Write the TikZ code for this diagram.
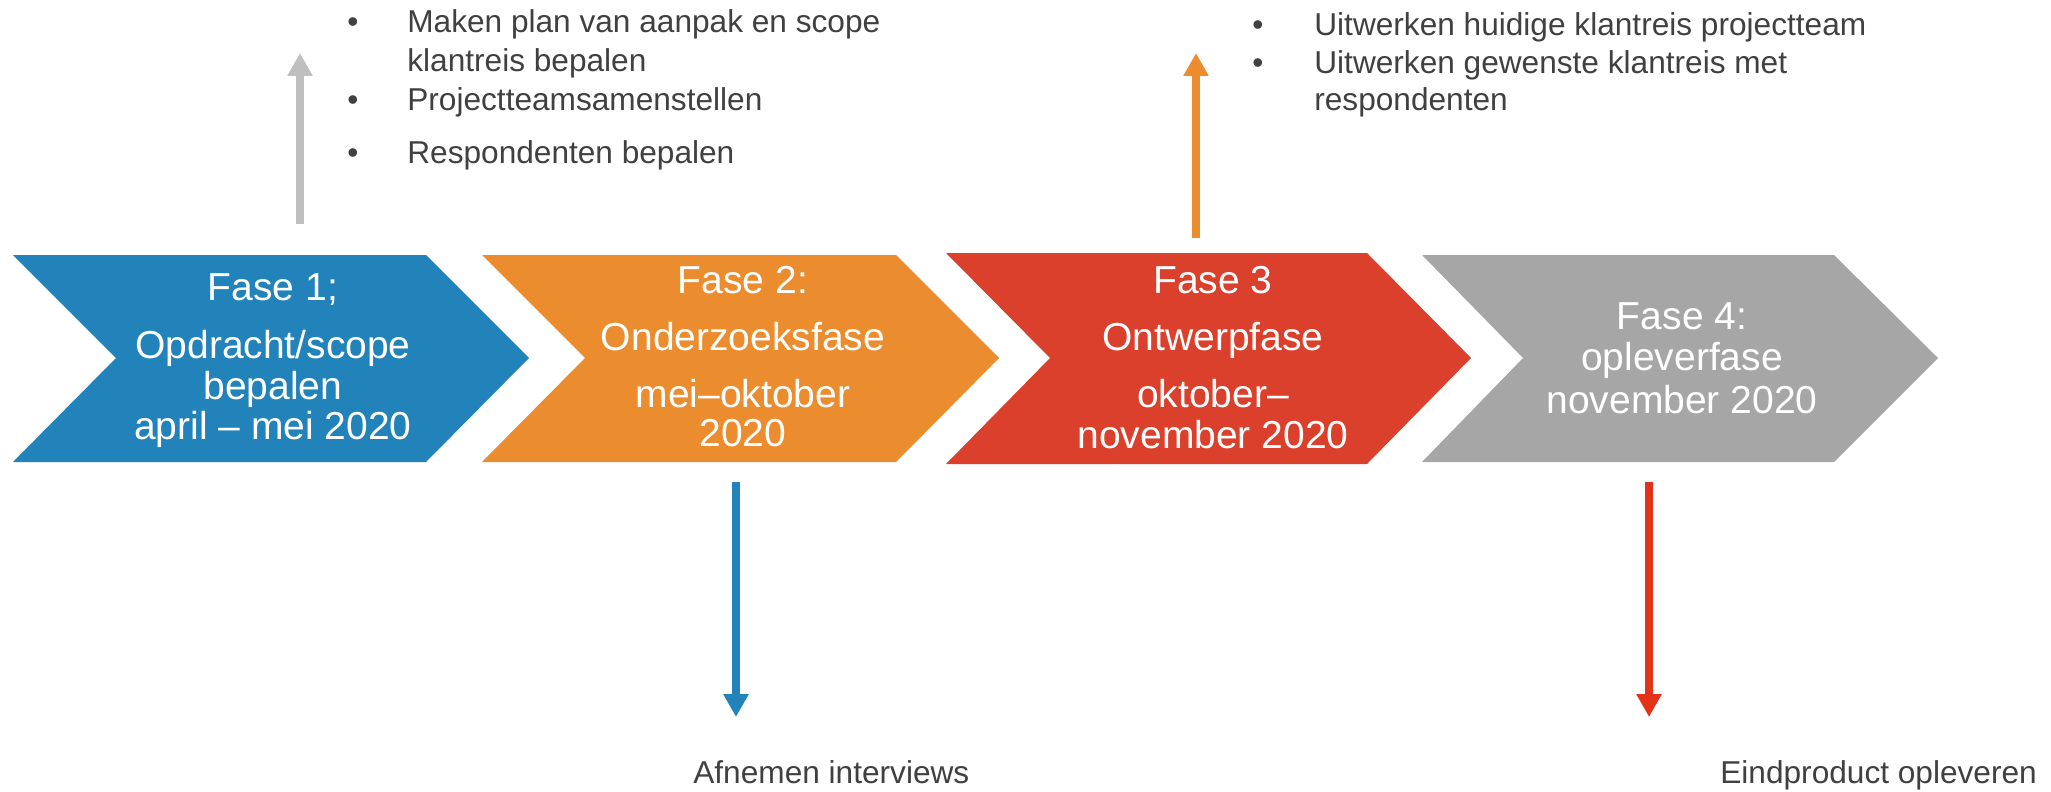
\documentclass[tikz,border=0pt]{standalone}
\usepackage{fontspec}
\setmainfont{Liberation Sans}
\usetikzlibrary{arrows.meta}
\definecolor{cblue}{RGB}{33,131,186}
\definecolor{corange}{RGB}{235,140,47}
\definecolor{cred}{RGB}{219,64,44}
\definecolor{cgray}{RGB}{166,166,166}
\definecolor{agray}{RGB}{191,191,191}
\definecolor{ared}{RGB}{227,50,25}
\definecolor{textgray}{RGB}{64,64,64}
\begin{document}
\begin{tikzpicture}[x=0.02cm,y=-0.02cm,
  phase/.style={anchor=base, text=white, font=\fontsize{22.2}{26}\selectfont, inner sep=0pt},
  item/.style={anchor=base west, text=textgray, font=\fontsize{18}{21}\selectfont, inner sep=0pt},
  bul/.style={anchor=base, text=textgray, font=\fontsize{18}{21}\selectfont, inner sep=0pt},
  pointer/.style={line width=0.154cm, -{Triangle[width=0.48cm,length=0.46cm]}},
]
\path[use as bounding box] (0,0) rectangle (2051,791);

% chevrons
\fill[cblue] (13,255) -- (426,255) -- (529,358) -- (426,462) -- (13,462) -- (116,358) -- cycle;
\fill[corange] (482,255) -- (896,255) -- (999,358) -- (896,462) -- (482,462) -- (585,358) -- cycle;
\fill[cred] (946,253) -- (1367,253) -- (1471,358) -- (1367,464) -- (946,464) -- (1050,358) -- cycle;
\fill[cgray] (1422,255) -- (1834,255) -- (1938,358) -- (1834,462) -- (1422,462) -- (1523,358) -- cycle;

% phase texts
\node[phase] (b1) at (273,300) {Fase 1;};
\node[phase] (b2) at (273,358) {Opdracht/scope};
\node[phase] (b3) at (273,399) {bepalen};
\node[phase] (b4) at (273,439) {april – mei 2020};

\node[phase] (o1) at (743,293) {Fase 2:};
\node[phase] (o2) at (743,350) {Onderzoeksfase};
\node[phase] (o3) at (743,407) {mei–oktober};
\node[phase] (o4) at (743,446) {2020};

\node[phase] (r1) at (1213,293) {Fase 3};
\node[phase] (r2) at (1213,350) {Ontwerpfase};
\node[phase] (r3) at (1213,407) {oktober–};
\node[phase] (r4) at (1213,448) {november 2020};

\node[phase] (g1) at (1682,329) {Fase 4:};
\node[phase] (g2) at (1682,370) {opleverfase};
\node[phase] (g3) at (1682,413) {november 2020};

% arrows
\coordinate (ga0) at (300,224); \coordinate (ga1) at (300,53);
\coordinate (oa0) at (1196,238); \coordinate (oa1) at (1196,53);
\coordinate (ba0) at (736,482); \coordinate (ba1) at (736,717);
\coordinate (ra0) at (1649,482); \coordinate (ra1) at (1649,717);
\draw[pointer, agray] (ga0) -- (ga1);
\draw[pointer, corange] (oa0) -- (oa1);
\draw[pointer, cblue] (ba0) -- (ba1);
\draw[pointer, ared] (ra0) -- (ra1);

% left bullet list
\node[bul] (l1b) at (353,32) {•};
\node[item] (l1) at (407,32) {Maken plan van aanpak en scope};
\node[item] (l1c) at (407,71) {klantreis bepalen};
\node[bul] (l2b) at (353,110) {•};
\node[item] (l2) at (407,110) {Projectteamsamenstellen};
\node[bul] (l3b) at (353,163) {•};
\node[item] (l3) at (407,163) {Respondenten bepalen};

% right bullet list
\node[bul] (m1b) at (1258,35) {•};
\node[item] (m1) at (1314,35) {Uitwerken huidige klantreis projectteam};
\node[bul] (m2b) at (1258,73) {•};
\node[item] (m2) at (1314,73) {Uitwerken gewenste klantreis met};
\node[item] (m2c) at (1314,110) {respondenten};

% bottom labels
\node[item] (t1) at (693,783) {Afnemen interviews};
\node[item] (t2) at (1720,783) {Eindproduct opleveren};
\end{tikzpicture}
\end{document}
